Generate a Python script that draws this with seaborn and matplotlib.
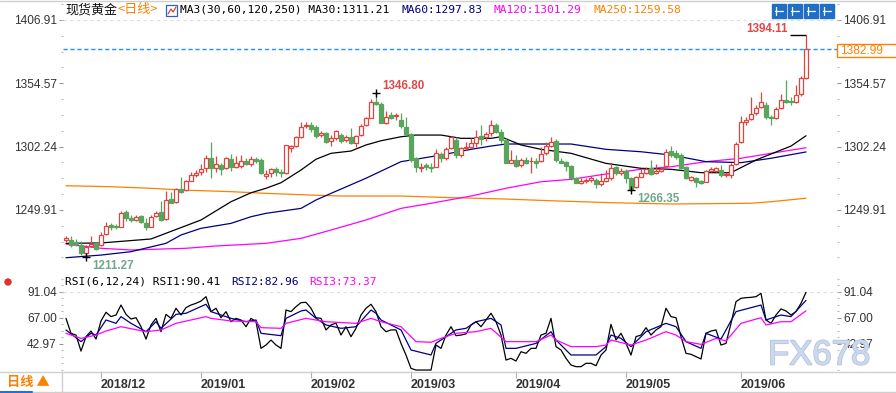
import numpy as np
import pandas as pd
import seaborn as sns
import matplotlib.pyplot as plt
import matplotlib.patheffects as pe
from matplotlib.patches import Rectangle, Ellipse
from matplotlib.lines import Line2D
from matplotlib.ticker import AutoMinorLocator

# trading days on the chart (spot gold, daily candles)
dates = pd.bdate_range("2018-11-22", "2019-06-20")
dates = dates[~dates.isin(pd.to_datetime(["2018-12-25", "2019-01-01"]))]

opens = [1224.8, 1225, 1223, 1221, 1214, 1220, 1222.3, 1221, 1230, 1237.4,
         1237, 1236, 1248.5, 1243, 1241.6, 1244.9, 1239.4, 1236, 1245, 1248.5,
         1242, 1258.6, 1256.7, 1267, 1266.4, 1274, 1278.8, 1281.5, 1284.3, 1293,
         1284.3, 1287, 1284.3, 1292, 1285.6, 1286.5, 1290.6, 1287.9, 1292, 1291.2,
         1278, 1280.1, 1283.7, 1281.5, 1280.1, 1301.4, 1302.7, 1310.5, 1319.5, 1320,
         1318.7, 1311.8, 1313.2, 1307, 1309.1, 1311.8, 1307.7, 1309.9, 1305, 1311.8,
         1320, 1326.2, 1339.4, 1337.2, 1321.5, 1328.4, 1327.5, 1324.2, 1318.7, 1312.7,
         1292.5, 1284.3, 1287, 1285.6, 1285.6, 1296, 1292.5, 1300.8, 1307.7, 1295.3,
         1300.8, 1302.2, 1304.9, 1311, 1309.9, 1313.2, 1320, 1314.6, 1307.7, 1289,
         1291.2, 1287, 1291.2, 1290, 1290.6, 1290.6, 1296.7, 1303, 1307.1, 1290.6,
         1289.8, 1286.2, 1276, 1272.4, 1273.5, 1274.6, 1274.6, 1271.3, 1274, 1276,
         1285, 1280.1, 1282, 1276, 1268.6, 1277.4, 1280.1, 1284.3, 1280.1, 1282.3,
         1286.2, 1298.9, 1296.7, 1295.3, 1285, 1274.6, 1276.6, 1273.8, 1273.3, 1282,
         1282.3, 1282.9, 1278.5, 1278.8, 1287.6, 1305.8, 1323, 1325, 1330, 1335,
         1337, 1327, 1326, 1334, 1341, 1340, 1339, 1346, 1359]
closes = [1227, 1221, 1221.5, 1214, 1219.5, 1221.7, 1218, 1229, 1236.6, 1236,
          1235.5, 1247, 1243, 1241.6, 1243.8, 1240.2, 1236, 1243.8, 1247, 1241.6,
          1258, 1256, 1266.9, 1265, 1273.8, 1278.8, 1280.7, 1283.5, 1293, 1284.3,
          1287.9, 1283.5, 1292.6, 1285.6, 1289, 1290.6, 1287.9, 1292, 1290.4, 1280.1,
          1280, 1283.7, 1281.5, 1280.1, 1303.6, 1303, 1310.5, 1318.2, 1320.2, 1316.5,
          1311, 1313.8, 1306.3, 1309.7, 1315.4, 1307.1, 1310, 1305, 1311, 1319.3,
          1325.6, 1339.4, 1337.2, 1322, 1327, 1326, 1328.5, 1319.3, 1312.7, 1291.2,
          1285.6, 1285.6, 1285, 1284.3, 1296.7, 1292.5, 1300, 1309.9, 1295.3, 1300.8,
          1302.2, 1305.5, 1310.5, 1308.2, 1312.7, 1320.1, 1314.6, 1307.7, 1289, 1291.2,
          1286.2, 1291.2, 1289, 1290.5, 1289, 1296, 1302.7, 1306.3, 1291.2, 1289,
          1286.2, 1276, 1272.4, 1274, 1274.8, 1276, 1271.3, 1274, 1276, 1284.3,
          1280.1, 1282.3, 1276, 1266.9, 1277.4, 1280.7, 1283.4, 1279.6, 1282.3, 1283.7,
          1298, 1295.3, 1294, 1284.3, 1276, 1277.4, 1273.3, 1272.1, 1282.1, 1283.7,
          1284.3, 1278.8, 1279.7, 1287, 1304.1, 1322.9, 1324.5, 1329, 1334, 1339,
          1327, 1325.5, 1333, 1341, 1339.5, 1339, 1345, 1359, 1382.99]
highs = [1228, 1228, 1226, 1224, 1221, 1228, 1223.5, 1232, 1240, 1238.8,
         1238.5, 1249, 1250, 1245.7, 1245.7, 1245.5, 1243, 1245.7, 1249, 1257.6,
         1265.5, 1265, 1268, 1277.4, 1275, 1281.5, 1282.9, 1287.6, 1295.3, 1306.3,
         1294.5, 1289, 1293.4, 1296.1, 1294.5, 1295.3, 1292.6, 1294.5, 1293.5, 1292.6,
         1282.9, 1284.8, 1285.2, 1283.7, 1303.6, 1303.6, 1311, 1322.9, 1322.9, 1322.9,
         1320.1, 1315.4, 1314.6, 1311.8, 1316, 1313.2, 1311.5, 1317.3, 1311.8, 1320.9,
         1327, 1341.6, 1346.8, 1339.4, 1332, 1331.1, 1329.7, 1329.7, 1326.4, 1313.2,
         1293.9, 1288.4, 1289, 1288.4, 1300, 1298, 1302.2, 1311, 1309.9, 1302.2,
         1306.3, 1309.6, 1316, 1320.1, 1314.6, 1324.2, 1322, 1316.5, 1309.1, 1299.4,
         1295.3, 1292.5, 1293.4, 1293.4, 1292.5, 1302.2, 1306.3, 1309.9, 1308.2, 1292.5,
         1290.6, 1287, 1277.4, 1276, 1276.5, 1277.9, 1276, 1280.1, 1282.9, 1288.4,
         1286.2, 1284.3, 1283.4, 1277.4, 1277.9, 1283.4, 1285.6, 1291.2, 1287.9, 1285,
         1300, 1302.7, 1299.4, 1297.2, 1286.2, 1277.9, 1277.4, 1275, 1282.9, 1285.7,
         1285.7, 1287, 1281, 1288.4, 1306.3, 1327.8, 1327, 1343, 1337, 1347.5,
         1339, 1328, 1335, 1346, 1357.5, 1343, 1353, 1361, 1394.11]
lows = [1223, 1219.5, 1220, 1212.6, 1211.27, 1219.5, 1216.8, 1220, 1229.2, 1233.3,
        1234, 1235.5, 1241, 1240.2, 1240.7, 1239.5, 1233.3, 1235.5, 1243.8, 1241,
        1241.6, 1255.3, 1256, 1264.2, 1265.8, 1273.8, 1277.4, 1278.8, 1281.5, 1276.6,
        1281.5, 1278.8, 1283.7, 1282.4, 1284.3, 1284.8, 1287, 1286.5, 1289, 1279.3,
        1275.5, 1277.4, 1278.2, 1277.4, 1279.5, 1298, 1302.2, 1309.1, 1317.4, 1314.6,
        1309, 1310.5, 1305, 1302.7, 1307.7, 1305.5, 1306, 1304.4, 1301.6, 1311,
        1319.3, 1325.6, 1336.5, 1321.5, 1321, 1324.8, 1324.2, 1317.3, 1311.8, 1289.8,
        1281.5, 1281.5, 1283, 1281.5, 1285, 1289.8, 1291.2, 1300, 1292.5, 1293.9,
        1299.4, 1300.8, 1302.2, 1303.6, 1307.1, 1311, 1313.2, 1305, 1288.4, 1288.4,
        1285.6, 1285.6, 1287.9, 1280.7, 1284.3, 1289.8, 1295.3, 1302.2, 1289.8, 1288.4,
        1282.3, 1274.6, 1272.4, 1271.3, 1272, 1273.3, 1268, 1269.7, 1273.3, 1274.6,
        1278.8, 1278.8, 1272.4, 1266.35, 1267.7, 1276.8, 1279.6, 1278.8, 1279.6, 1281,
        1285.1, 1293.9, 1291.7, 1283.4, 1275.2, 1274.1, 1269.1, 1271, 1272.7, 1281.5,
        1281.5, 1277.4, 1277.4, 1276, 1287, 1305, 1320, 1324, 1328.5, 1334,
        1325, 1320, 1325, 1333, 1338, 1337, 1338, 1344, 1358]

# moving averages at a few candles
ma30_idx = [0, 7, 17, 27, 33, 37, 40, 43, 47, 50, 53, 57, 60, 63, 67, 70, 75, 79, 85, 87,
            91, 95, 101, 108, 115, 121, 127, 133, 138, 145, 148]
ma30_val = [1222.3, 1222.6, 1225.9, 1241.6, 1256.7, 1264.1, 1267.8, 1272.4, 1282.9, 1291.8,
            1296.7, 1298.6, 1303.6, 1307.1, 1310.4, 1311.8, 1311.8, 1309.1, 1309.1, 1310.4,
            1303.6, 1300, 1296.7, 1288.4, 1284.3, 1283.5, 1280.7, 1280.7, 1291.2, 1302.7, 1311.21]
ma60_idx = [0, 7, 13, 20, 23, 27, 33, 37, 40, 47, 50, 53, 60, 67, 70, 75, 81, 85, 88, 95,
            101, 108, 115, 121, 128, 135, 141, 148]
ma60_val = [1210.4, 1212.6, 1215.4, 1222.3, 1229.2, 1234.7, 1238.8, 1244.3, 1247.1, 1251.2,
            1258.1, 1263.6, 1276.1, 1289.8, 1291.8, 1295.3, 1300, 1302.7, 1304.4, 1304.4,
            1304.4, 1300, 1298, 1295.3, 1289.8, 1289, 1292.6, 1297.83]
ma120_idx = [0, 7, 13, 24, 30, 40, 47, 53, 60, 67, 73, 81, 88, 95, 101, 108, 115, 121, 128,
             135, 141, 148]
ma120_val = [1221.7, 1218.2, 1216.8, 1218.2, 1220.1, 1222.3, 1226.4, 1233.3, 1241.6, 1251.2,
             1255.4, 1261.4, 1267.8, 1273.2, 1275.2, 1279.6, 1283.5, 1285.6, 1289.8, 1292.6,
             1296.7, 1301.29]
ma250_idx = [0, 9, 17, 23, 33, 40, 49, 55, 67, 75, 88, 97, 109, 121, 137, 141, 148]
ma250_val = [1269.9, 1269.1, 1267.8, 1266.4, 1265, 1263.6, 1262.2, 1261.4, 1261.4, 1260.3,
             1258.9, 1257.5, 1255.9, 1254.8, 1255.4, 1256.7, 1259.58]

# RSI(6,12,24)
rsi1 = [66.4, 52.6, 51, 36.2, 49.5, 54.7, 47.3, 64, 72, 68,
        69.5, 78.7, 70.1, 65.8, 67, 58.7, 47.3, 60.3, 66.4, 54.1,
        70.1, 66.4, 75.7, 69.5, 76.3, 78.7, 80.3, 82.4, 86.4, 72.6,
        75.7, 67, 72.6, 63.3, 66.4, 64.9, 58.7, 66.4, 63.3, 38.7,
        41.8, 46.4, 41.8, 38.7, 74.1, 72.6, 77.2, 80.9, 81.2, 75.7,
        67, 66.4, 55.7, 60.3, 62, 51, 58.7, 49.5, 57.2, 69.5,
        75.7, 79.4, 72.6, 58.7, 54.1, 55.7, 55.7, 43.3, 32.5, 20.2,
        18.7, 18.7, 18.7, 18.7, 41.8, 38.7, 51, 58.7, 50.4, 51,
        52, 60.3, 63.3, 58.7, 64.9, 71.1, 63.3, 51, 27.9, 29.5,
        27, 35.6, 34.1, 38.7, 38.7, 51, 52.6, 66.4, 40.3, 37.2,
        29.5, 23.3, 21.8, 21.8, 24.9, 24.9, 22.7, 32.5, 37.2, 60.9,
        46.4, 52.6, 43.3, 32.5, 49.5, 51, 57.8, 51, 55.7, 58.7,
        75.7, 68, 67, 49.5, 34.1, 33.2, 31, 28.9, 52.6, 54.7,
        55.7, 41.8, 43.3, 61.8, 81.8, 84.9, 85.5, 85.8, 86.4, 89.5,
        64.9, 61.8, 69.5, 75.1, 73.2, 69.5, 72.6, 80.3, 90.41]
rsi2_idx = [0, 3, 5, 6, 8, 10, 11, 13, 16, 18, 19, 22, 24, 28, 29, 33, 36, 38, 39, 43,
            44, 47, 48, 50, 52, 55, 58, 61, 62, 63, 67, 69, 73, 74, 75, 78, 80, 82, 85, 87,
            88, 90, 94, 97, 98, 101, 106, 108, 109, 111, 113, 116, 120, 122, 124, 127, 128,
            131, 134, 139, 140, 143, 145, 148]
rsi2_val = [55.7, 44.9, 52.6, 51, 64.9, 61.8, 68, 61.8, 54.1, 63.3, 57.2, 70.1, 71.1, 79.4,
            72.6, 66.4, 63.3, 64.9, 52.6, 50.4, 66.4, 73.2, 74.1, 66.4, 60.3, 57.2, 58.7,
            74.1, 71.1, 64.9, 55.7, 37.2, 32.6, 43.3, 46.4, 55.7, 57.2, 63.3, 66.4, 60.3,
            38.7, 38.7, 43.3, 54.1, 46.4, 32.6, 32.6, 40.3, 51, 47.9, 40.3, 54.1, 61.8,
            58.7, 44.9, 38.7, 52.6, 47.3, 72.6, 78.7, 64.9, 69.5, 68, 82.96]
rsi3_idx = [0, 3, 6, 8, 11, 16, 19, 22, 28, 29, 33, 38, 39, 43, 44, 48, 52, 58, 61, 63,
            67, 70, 73, 75, 78, 82, 85, 88, 94, 97, 98, 101, 106, 108, 109, 113, 116, 120,
            122, 124, 127, 130, 132, 135, 139, 140, 143, 145, 148]
rsi3_val = [52.6, 47.9, 51, 54.7, 58.7, 54.1, 55.7, 61.8, 68, 66.4, 64, 63.3, 57.8, 57.2,
            61.8, 66.4, 63.3, 61.8, 66.4, 63.3, 58.7, 44.9, 44.3, 47.9, 52.6, 54.1, 57.2,
            44.9, 44.9, 51, 46.4, 40.3, 40.3, 41.8, 46.4, 41.8, 46.4, 54.1, 51, 44.9, 42.4,
            47.9, 45.5, 61.8, 67, 60.3, 63.3, 63.3, 73.37]

price_ticks = [1249.91, 1302.24, 1354.57, 1406.91]
rsi_ticks = [42.97, 67.00, 91.04]

sns.set_style("white")
plt.rcParams['font.family'] = ['Liberation Sans', 'Noto Sans CJK SC', 'DejaVu Sans']

W, H = 896, 393
fig = plt.figure(figsize=(W / 100, H / 100), dpi=100)


def box(l, t, r, b):
    return [l / W, 1 - b / H, (r - l) / W, (b - t) / H]


def fpos(x, y):
    return x / W, 1 - y / H


ax = fig.add_axes(box(63, 3, 837, 272))
ax2 = fig.add_axes(box(63, 276, 837, 371), sharex=ax)

red, green = "#e2433f", "#58a55c"
x = np.arange(len(dates))
o, h, l, c = map(np.array, (opens, highs, lows, closes))
up = c >= o
ax.vlines(x, l, h, colors=np.where(up, red, green), linewidth=0.9, zorder=2)
body = np.maximum(np.abs(c - o), 0.4)
bot = np.minimum(o, c)
ax.bar(x[up], body[up], bottom=bot[up], width=0.62, facecolor="white",
       edgecolor=red, linewidth=0.9, zorder=3)
ax.bar(x[~up], body[~up], bottom=bot[~up], width=0.62, facecolor=green,
       edgecolor=green, linewidth=0.9, zorder=3)

kw = dict(estimator=None, sort=False, legend=False, linewidth=0.9, zorder=1)
sns.lineplot(x=ma250_idx, y=ma250_val, ax=ax, color="#ff8000", **kw)
sns.lineplot(x=ma120_idx, y=ma120_val, ax=ax, color="#ff00ff", **kw)
sns.lineplot(x=ma60_idx, y=ma60_val, ax=ax, color="#000080", **kw)
sns.lineplot(x=ma30_idx, y=ma30_val, ax=ax, color="black", **kw)

ax.axhline(c[-1], color="#1e90ff", lw=1, ls=(0, (3, 2)), zorder=0.5)
ax.axhline(price_ticks[-1], color="#dddddd", lw=0.8, ls=(0, (3, 3)), zorder=0)

# extreme labels
ihi = int(np.argmax(h))
ipk = int(np.argmax(h[:100]))
ilo = int(np.argmin(l))
ilo2 = 100 + int(np.argmin(l[100:]))
ax.hlines(h[ihi], ihi - 3.2, ihi, color="black", lw=1, zorder=4)
ax.annotate(f"{h[ihi]:.2f}", (ihi, h[ihi]), xytext=(-13, 5), textcoords="offset points",
            ha="right", va="center", color="#e04848", fontsize=8.4, fontweight="bold")
for i, v, dy, col in [(ipk, h[ipk], 5, "#e04848"), (ilo2, l[ilo2], -6.5, "#6fa88a"),
                      (ilo, l[ilo], -6.5, "#6fa88a")]:
    ax.plot([i], [v], marker="+", color="black", ms=6, mew=1, zorder=4)
    ax.annotate(f"{v:.2f}", (i, v), xytext=(4.3, dy), textcoords="offset points",
                ha="left", va="center", color=col, fontsize=8.4, fontweight="bold")

sns.lineplot(x=x, y=rsi1, ax=ax2, color="black", **kw)
sns.lineplot(x=rsi2_idx, y=rsi2_val, ax=ax2, color="#000080", **kw)
sns.lineplot(x=rsi3_idx, y=rsi3_val, ax=ax2, color="#ff00ff", **kw)
ax2.axhline(rsi_ticks[-1], color="#dddddd", lw=0.8, ls=(0, (3, 3)), zorder=0)

ax.set_xlim(-0.6, 154.2)
ax.set_ylim(1198.6, 1420.96)
ax2.set_ylim(17.8, 105.5)

for a, ticks in [(ax, price_ticks), (ax2, rsi_ticks)]:
    a.set_yticks(ticks)
    a.set_yticklabels([f"{t:.2f}" for t in ticks])
    a.yaxis.set_minor_locator(AutoMinorLocator(4))
    a.tick_params(axis="y", which="major", left=True, right=True, labelleft=True,
                  labelright=True, length=3, width=0.8, color="#999999", labelsize=8.6,
                  labelcolor="#333333", pad=1.5)
    a.tick_params(axis="y", which="minor", left=True, right=True, length=1.5,
                  width=0.8, color="#bbbbbb")
    for s in a.spines.values():
        s.set_visible(False)
    a.set_xlabel("")
    a.set_ylabel("")

ax.tick_params(axis="x", bottom=False, labelbottom=False)
months = pd.Series(dates.month)
mstart = [i for i in range(1, len(dates)) if months[i] != months[i - 1]]
ax2.set_xticks(mstart)
ax2.set_xticklabels([dates[i].strftime("%Y/%m") for i in mstart], ha="left",
                    fontweight="bold", fontsize=9, color="#333333")
ax2.tick_params(axis="x", bottom=True, length=5, width=0.8, color="#b0b0b0", pad=1)

# headers
mono = "DejaVu Sans Mono"
cjk = ["Noto Sans CJK SC", "DejaVu Sans"]
fig.text(*fpos(65, 10), "现货黄金", family=cjk, size=9.4, va="center", color="#111111")
fig.text(*fpos(117, 10), "<日线>", family=cjk, size=9.4, va="center", color="#ff8000")
fig.add_artist(Rectangle(fpos(166, 16), 11 / W, 11 / H, transform=fig.transFigure,
                         fc="white", ec="#3060c0", lw=0.9))
fig.add_artist(Line2D([168 / W, 171 / W, 173 / W, 176 / W],
                      [1 - 14 / H, 1 - 9 / H, 1 - 12 / H, 1 - 7 / H],
                      transform=fig.transFigure, color="#d03030", lw=0.8))
for xs, txt, col in [(180, f"MA3(30,60,120,250) MA30:{ma30_val[-1]:.2f}", "black"),
                     (401, f"MA60:{ma60_val[-1]:.2f}", "#000080"),
                     (493, f"MA120:{ma120_val[-1]:.2f}", "#ff00ff"),
                     (593, f"MA250:{ma250_val[-1]:.2f}", "#ff8000")]:
    fig.text(*fpos(xs, 10), txt, family=mono, size=8.1, va="center", color=col)

for xs, txt, col in [(65, f"RSI(6,12,24) RSI1:{rsi1[-1]:.2f}", "black"),
                     (231, f"RSI2:{rsi2_val[-1]:.2f}", "#000080"),
                     (309, f"RSI3:{rsi3_val[-1]:.2f}", "#ff00ff")]:
    fig.text(*fpos(xs, 282), txt, family=mono, size=8.1, va="center", color=col)
fig.add_artist(Ellipse(fpos(8, 282), 6 / W, 6 / H, transform=fig.transFigure,
                       fc="#e03030", ec="#e03030"))

# toolbar buttons
for bx in [772, 788, 804, 820]:
    fig.add_artist(Rectangle(fpos(bx, 18), 14 / W, 14 / H, transform=fig.transFigure,
                             fc="#1f6fc5", ec="#1f6fc5"))
    fig.add_artist(Line2D([(bx + 4) / W, (bx + 4) / W], [1 - 7 / H, 1 - 15 / H],
                          transform=fig.transFigure, color="white", lw=0.9))
    fig.add_artist(Line2D([(bx + 3) / W, (bx + 11) / W], [1 - 11 / H, 1 - 11 / H],
                          transform=fig.transFigure, color="white", lw=0.9))

# last price box
fig.add_artist(Rectangle(fpos(837, 57), 60 / W, 13 / H, transform=fig.transFigure,
                         fc="white", ec="#ff8000", lw=1))
fig.text(*fpos(840, 50.5), f"{c[-1]:.2f}", size=8.6, va="center", color="#ff8000")

# frame lines and bottom bar
for ys in [1, 372, 392]:
    fig.add_artist(Line2D([0, 1], [1 - ys / H] * 2, transform=fig.transFigure,
                          color="#cfcfcf", lw=1))
fig.add_artist(Line2D([0, 32 / W], [1 - 392 / H] * 2, transform=fig.transFigure,
                      color="#2a6fd0", lw=1.5))
fig.add_artist(Line2D([62 / W] * 2, [1 - 372 / H, 0], transform=fig.transFigure,
                      color="#cfcfcf", lw=1))
fig.text(*fpos(7, 382), "日线 ▲", family=cjk, size=9.5, va="center", color="#ff7f00",
         fontweight="bold")

fig.text(*fpos(768, 355), "FX678", size=25, va="center", color="#ccd8ec",
         family="Liberation Sans", zorder=10,
         path_effects=[pe.withStroke(linewidth=1.2, foreground="#b4c4de")])

fig.savefig("out.png", dpi=100)
